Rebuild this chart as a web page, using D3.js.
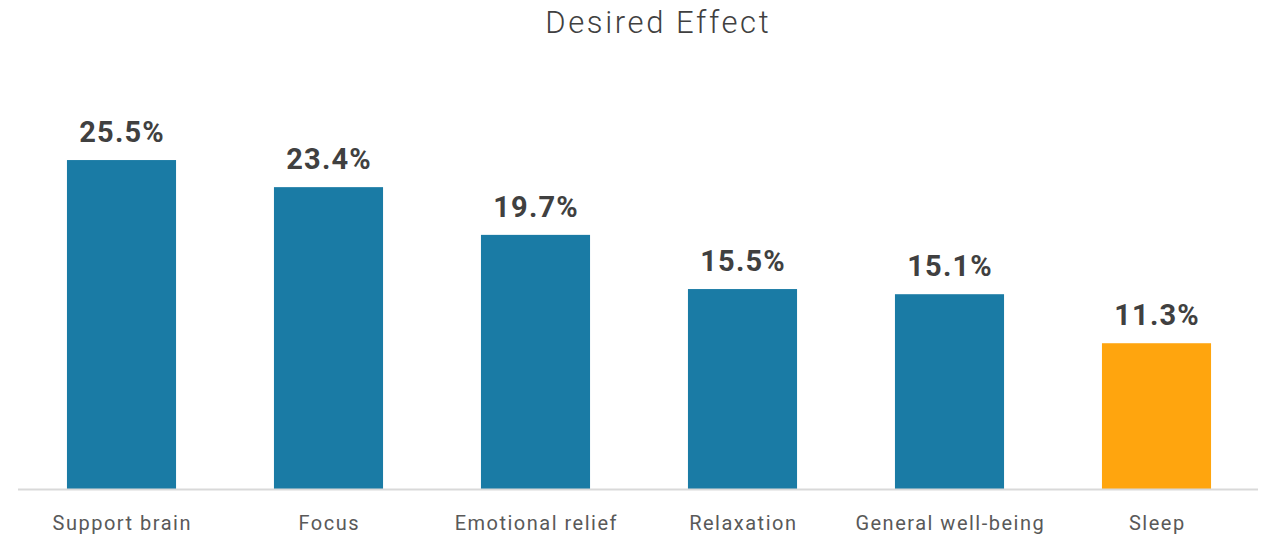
<!DOCTYPE html>
<html>
<head>
<meta charset="utf-8">
<script src="https://cdn.jsdelivr.net/npm/d3@7"></script>
<style>
  html, body { margin: 0; padding: 0; background: #fff; }
  svg { display: block; }
</style>
</head>
<body>
<svg id="chart" width="1261" height="538"></svg>
<script>
// Share of respondents by desired effect
const categories = ["Support brain", "Focus", "Emotional relief", "Relaxation", "General well-being", "Sleep"];
const values = [25.5, 23.4, 19.7, 15.5, 15.1, 11.3];
const highlight = ["Sleep"];

const width = 1261, height = 538;
const baseline = 489;
const svg = d3.select("#chart");

const x = d3.scaleBand()
  .domain(categories)
  .range([18, 1260])
  .paddingInner(0.473)
  .paddingOuter(0.2365);

const y = d3.scaleLinear()
  .domain([0, 30])
  .range([baseline, baseline - 387]);

// Title
svg.append("text")
  .attr("x", 657 + 1.3)
  .attr("y", 33)
  .attr("text-anchor", "middle")
  .attr("font-family", "Roboto, 'Noto Sans', sans-serif")
  .attr("font-weight", 300)
  .attr("font-size", 31)
  .attr("letter-spacing", 2.6)
  .attr("fill", "#404040")
  .text("Desired Effect");

// Bars
svg.append("g")
  .selectAll("rect")
  .data(categories)
  .join("rect")
  .attr("x", d => x(d))
  .attr("width", x.bandwidth())
  .attr("y", (d, i) => y(values[i]))
  .attr("height", (d, i) => y(0) - y(values[i]))
  .attr("fill", d => highlight.includes(d) ? "#ffa50e" : "#1a7ba5");

// Value labels
svg.append("g")
  .selectAll("text")
  .data(categories)
  .join("text")
  .attr("x", d => x(d) + x.bandwidth() / 2 + 0.6)
  .attr("y", (d, i) => y(values[i]) - 18)
  .attr("text-anchor", "middle")
  .attr("font-family", "Roboto, 'Noto Sans', sans-serif")
  .attr("font-weight", "bold")
  .attr("font-size", 29)
  .attr("letter-spacing", 1.2)
  .attr("fill", "#404040")
  .text((d, i) => values[i].toFixed(1) + "%");

// Category axis
const axis = svg.append("g")
  .attr("transform", `translate(0,${baseline})`)
  .call(d3.axisBottom(x).tickSize(0).tickPadding(0));
axis.select(".domain")
  .attr("d", "M18,0.5H1258")
  .attr("stroke", "#d9d9d9")
  .attr("stroke-width", 2);
axis.selectAll(".tick text")
  .attr("x", 0.8)
  .attr("y", 0)
  .attr("dy", 41)
  .attr("font-family", "Roboto, 'Noto Sans', sans-serif")
  .attr("font-size", 20)
  .attr("letter-spacing", 1.5)
  .attr("fill", "#595959");
</script>
</body>
</html>
